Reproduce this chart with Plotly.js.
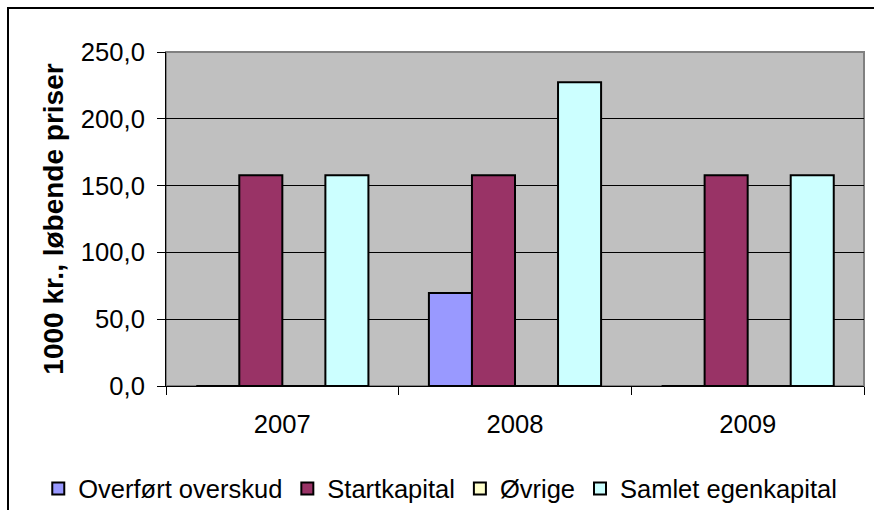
<!DOCTYPE html>
<html>
<head>
<meta charset="utf-8">
<script src="https://cdn.plot.ly/plotly-3.0.1.min.js"></script>
<style>
  html, body { margin: 0; padding: 0; background: #fff; }
  #wrap { position: relative; width: 874px; height: 510px; overflow: hidden; }
  #chart { position: absolute; left: 0; top: 0; width: 874px; height: 510px; }
  #frame { position: absolute; left: 7px; top: 7px; width: 900px; height: 600px;
           border-left: 2px solid #000; border-top: 2px solid #000; pointer-events: none; }
</style>
</head>
<body>
<div id="wrap">
  <div id="chart"></div>
  <div id="frame"></div>
</div>
<script>
const years = ["2007", "2008", "2009"];
const seriesNames = ["Overført overskud", "Startkapital", "Øvrige", "Samlet egenkapital"];
const overfoert = [0, 69.6, 0];
const startkapital = [157.8, 157.8, 157.8];
const oevrige = [0, 0, 0];
const samlet = [157.8, 227.4, 157.8];
const yTicks = [0, 50, 100, 150, 200, 250];

const colors = ["#9999FF", "#993366", "#FFFFCC", "#CCFFFF"];
const values = [overfoert, startkapital, oevrige, samlet];

const FONT = "Liberation Sans, Arial, sans-serif";

const traces = seriesNames.map((name, i) => ({
  type: "bar",
  name: name,
  x: years,
  y: values[i],
  marker: { color: colors[i], line: { color: "#000", width: 2 } },
  hoverinfo: "skip"
}));

const layout = {
  width: 874,
  height: 510,
  margin: { l: 166, r: 10, t: 52, b: 124, autoexpand: false },
  paper_bgcolor: "#ffffff",
  plot_bgcolor: "#C0C0C0",
  separators: ",.",
  barmode: "group",
  bargap: 0.26,
  bargroupgap: 0,
  font: { family: FONT, color: "#000", size: 25.6 },
  xaxis: {
    type: "category",
    tickson: "boundaries",
    ticks: "outside",
    ticklen: 8,
    tickwidth: 1,
    tickcolor: "#000",
    showline: true,
    linecolor: "#000",
    linewidth: 1,
    showgrid: false,
    tickfont: { family: FONT, size: 25.6, color: "#000" },
    ticklabelstandoff: 15
  },
  yaxis: {
    range: [0, 250],
    tickvals: yTicks,
    tickformat: ".1f",
    ticks: "outside",
    ticklen: 8,
    tickwidth: 1,
    tickcolor: "#000",
    showline: true,
    linecolor: "#000",
    linewidth: 1,
    showgrid: true,
    gridcolor: "#000",
    gridwidth: 1,
    zeroline: false,
    tickfont: { family: FONT, size: 25.6, color: "#000" },
    ticklabelstandoff: 7,
    title: { text: "1000 kr., løbende priser", font: { family: FONT, size: 28, color: "#000", weight: "bold" }, standoff: 9 },
    automargin: false
  },
  shapes: [{
    type: "rect", xref: "paper", yref: "paper", x0: 0, x1: 1, y0: 0, y1: 1,
    line: { color: "#808080", width: 2 }, layer: "below"
  }],
  legend: {
    orientation: "h",
    x: -0.183, xanchor: "left",
    y: -0.308, yanchor: "middle",
    font: { family: FONT, size: 25.5, color: "#000" },
    bgcolor: "rgba(0,0,0,0)",
    itemwidth: 30,
    tracegroupgap: 0
  },
  showlegend: true
};

Plotly.newPlot("chart", traces, layout, { displayModeBar: false, staticPlot: true });
</script>
</body>
</html>
